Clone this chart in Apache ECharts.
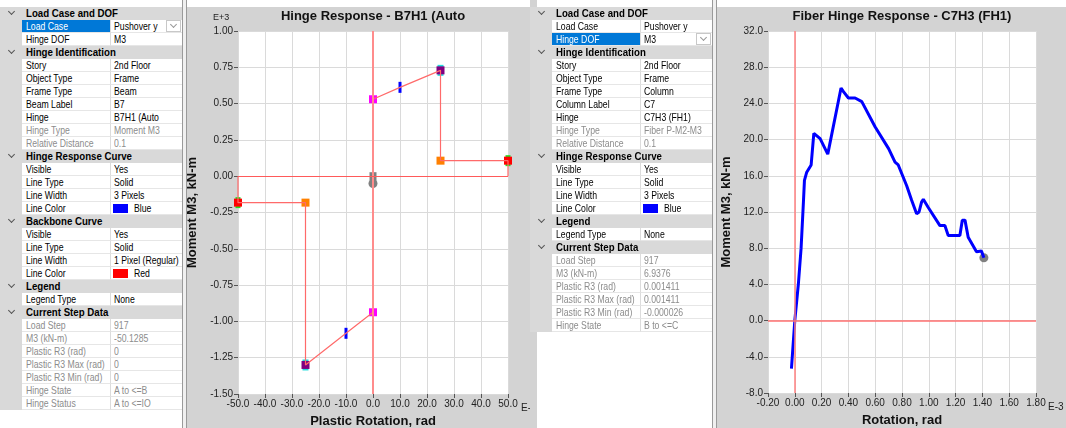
<!DOCTYPE html>
<html>
<head>
<meta charset="utf-8">
<script src="https://cdn.jsdelivr.net/npm/echarts@6/dist/echarts.min.js"></script>
<style>
  body { margin: 0; width: 1066px; height: 428px; position: relative; overflow: hidden; background: #fff;
         font-family: 'Liberation Sans', Arial, sans-serif; }
  .chart { position: absolute; top: 7px; height: 421px; }
  .tbl { position: absolute; top: 7px; width: 182px; }
  .row { display: flex; height: 13px; line-height: 12px; font-size: 11px; color: #000; }
  .gut { width: 22px; background: #d9d9d9; position: relative; flex: none; }
  .hdr { flex: 1; background: #d9d9d9; font-weight: bold; padding-left: 4px; white-space: nowrap; }
  .lab { width: 89px; flex: none; box-sizing: border-box; padding-left: 4px; background: #fff;
         border-right: 1px solid #dcdcdc; border-bottom: 1px solid #e6e6e6; white-space: nowrap; overflow: hidden; }
  .val { flex: 1; box-sizing: border-box; padding-left: 3px; background: #fff; position: relative;
         border-bottom: 1px solid #e6e6e6; white-space: nowrap; overflow: hidden; }
  .t { display: inline-block; transform: scaleX(0.79); transform-origin: 0 50%; }
  .hdr .t { transform: scaleX(0.88); }
  .dis { color: #8c8c8c; }
  .sel { background: #0078d7; color: #fff; }
  .chev { position: absolute; left: 9px; top: 2px; width: 4px; height: 4px; transform: rotate(45deg);
          border-right: 1px solid #555; border-bottom: 1px solid #555; }
  .drop { position: absolute; right: 1px; top: 0; width: 13px; height: 10px; border: 1px solid #c8c8c8; background: #fff; }
  .drop .chev { left: 4px; top: 1px; border-color: #999; }
  .sw { display: inline-block; width: 15px; height: 9px; vertical-align: -1px; margin: 0 6px 0 -1px; }
  .split { position: absolute; top: 0; width: 3px; height: 428px; background: #f0f0f0;
           border-left: 1px solid #9a9a9a; border-right: 1px solid #9a9a9a; }
</style>
</head>
<body>
<div id="chartL" class="chart" style="left:187px;width:350px;"></div>
<div id="chartR" class="chart" style="left:717px;width:349px;"></div>
<div style="position:absolute;left:530px;top:0;width:7px;height:428px;background:#d3d3d3;"></div>
<div id="tblL" class="tbl" style="left:0;"></div>
<div id="tblR" class="tbl" style="left:530px;"></div>
<div class="split" style="left:182px;"></div>
<div class="split" style="left:712px;"></div>
<script>
// property grids: [kind, label, value, extra]
// kind: h = header, n = normal, d = disabled
var leftRows = [
  ['h', 'Load Case and DOF'],
  ['n', 'Load Case', 'Pushover y', 'seldrop'],
  ['n', 'Hinge DOF', 'M3'],
  ['h', 'Hinge Identification'],
  ['n', 'Story', '2nd Floor'],
  ['n', 'Object Type', 'Frame'],
  ['n', 'Frame Type', 'Beam'],
  ['n', 'Beam Label', 'B7'],
  ['n', 'Hinge', 'B7H1 (Auto'],
  ['d', 'Hinge Type', 'Moment M3'],
  ['d', 'Relative Distance', '0.1'],
  ['h', 'Hinge Response Curve'],
  ['n', 'Visible', 'Yes'],
  ['n', 'Line Type', 'Solid'],
  ['n', 'Line Width', '3 Pixels'],
  ['n', 'Line Color', 'Blue', '#0000ff'],
  ['h', 'Backbone Curve'],
  ['n', 'Visible', 'Yes'],
  ['n', 'Line Type', 'Solid'],
  ['n', 'Line Width', '1 Pixel (Regular)'],
  ['n', 'Line Color', 'Red', '#ff0000'],
  ['h', 'Legend'],
  ['n', 'Legend Type', 'None'],
  ['h', 'Current Step Data'],
  ['d', 'Load Step', '917'],
  ['d', 'M3 (kN-m)', '-50.1285'],
  ['d', 'Plastic R3 (rad)', '0'],
  ['d', 'Plastic R3 Max (rad)', '0'],
  ['d', 'Plastic R3 Min (rad)', '0'],
  ['d', 'Hinge State', 'A to <=B'],
  ['d', 'Hinge Status', 'A to <=IO']
];

var rightRows = [
  ['h', 'Load Case and DOF'],
  ['n', 'Load Case', 'Pushover y'],
  ['n', 'Hinge DOF', 'M3', 'seldrop'],
  ['h', 'Hinge Identification'],
  ['n', 'Story', '2nd Floor'],
  ['n', 'Object Type', 'Frame'],
  ['n', 'Frame Type', 'Column'],
  ['n', 'Column Label', 'C7'],
  ['n', 'Hinge', 'C7H3 (FH1)'],
  ['d', 'Hinge Type', 'Fiber P-M2-M3'],
  ['d', 'Relative Distance', '0.1'],
  ['h', 'Hinge Response Curve'],
  ['n', 'Visible', 'Yes'],
  ['n', 'Line Type', 'Solid'],
  ['n', 'Line Width', '3 Pixels'],
  ['n', 'Line Color', 'Blue', '#0000ff'],
  ['h', 'Legend'],
  ['n', 'Legend Type', 'None'],
  ['h', 'Current Step Data'],
  ['d', 'Load Step', '917'],
  ['d', 'M3 (kN-m)', '6.9376'],
  ['d', 'Plastic R3 (rad)', '0.001411'],
  ['d', 'Plastic R3 Max (rad)', '0.001411'],
  ['d', 'Plastic R3 Min (rad)', '-0.000026'],
  ['d', 'Hinge State', 'B to <=C']
];

// left chart: backbone (rotation E-3, moment E+3)
var backboneRot = [-50, -50, -25, -25, -10, 0, 0, 10, 25, 25, 50, 50];
var backboneMom = [0, -0.182, -0.182, -1.30, -1.082, -0.937, 0.53, 0.612, 0.729, 0.107, 0.107, 0];
var yieldPts = [[0, 0.53], [0, -0.937]];
var ioPts = [[10, 0.612], [-10, -1.082]];
var capPts = [[25, 0.729], [-25, -1.30]];
var residPts = [[25, 0.107], [-25, -0.182]];
var endPts = [[50, 0.107], [-50, -0.182]];
var originPt = [[0, 0]];
var stepPtL = [[0, -0.05]];

// right chart: fiber hinge response (rotation E-3, moment kN-m)
var fiberRot = [-0.025, 0, 0.027, 0.047, 0.065, 0.072, 0.089, 0.122, 0.142, 0.189, 0.246, 0.345, 0.363, 0.40,
  0.45, 0.50, 0.60, 0.70, 0.748, 0.772, 0.835, 0.872, 0.909, 0.927, 0.946, 0.959, 0.996, 1.083, 1.12,
  1.145, 1.232, 1.25, 1.27, 1.294, 1.356, 1.393, 1.411];
var fiberMom = [-5.3, 0, 4.1, 8.0, 13.3, 15.5, 16.4, 17.2, 20.7, 20.1, 18.4, 25.7, 25.3, 24.6,
  24.6, 24.2, 21.4, 19.0, 17.5, 17.2, 14.9, 13.3, 11.8, 12.0, 13.1, 13.4, 12.5, 10.5, 10.5,
  9.4, 9.4, 11.1, 11.1, 9.2, 7.6, 7.7, 6.94];
var stepPtR = [[1.411, 6.94]];

var FONT = "'Liberation Sans', Arial, sans-serif";

function esc(s) {
  return s.replace(/&/g, '&amp;').replace(/</g, '&lt;');
}

function buildTable(el, rows) {
  var html = '';
  rows.forEach(function (r) {
    if (r[0] === 'h') {
      html += '<div class="row"><div class="gut"><div class="chev"></div></div><div class="hdr"><span class="t">' +
        esc(r[1]) + '</span></div></div>';
      return;
    }
    var cls = r[0] === 'd' ? ' dis' : '';
    var extra = r[3] || '';
    var labCls = extra === 'seldrop' ? ' sel' : '';
    var val = '<span class="t">' + esc(r[2]) + '</span>';
    if (extra.charAt(0) === '#') {
      val = '<span class="sw" style="background:' + extra + '"></span>' + val;
    }
    if (extra === 'seldrop') {
      val += '<div class="drop"><div class="chev"></div></div>';
    }
    html += '<div class="row' + cls + '"><div class="gut"></div><div class="lab' + labCls + '"><span class="t">' +
      esc(r[1]) + '</span></div><div class="val">' + val + '</div></div>';
  });
  el.innerHTML = html;
}

function zip(xs, ys) {
  return xs.map(function (x, i) { return [x, ys[i]]; });
}

function axisBase(name, gap, digits) {
  return {
    type: 'value',
    name: name,
    nameLocation: 'middle',
    nameGap: gap,
    nameTextStyle: { fontSize: 13, fontWeight: 'bold', color: '#111', fontFamily: FONT },
    axisLine: { show: false, onZero: false },
    axisTick: { show: true, length: 4, lineStyle: { color: '#555' } },
    axisLabel: {
      fontSize: 10, color: '#222', margin: 5, showMinLabel: true, showMaxLabel: true,
      formatter: function (v) { return v.toFixed(digits); }
    },
    splitLine: { show: true, lineStyle: { color: '#dadada', width: 1 } }
  };
}

function axisLines(vColor, vWidth, hColor, hWidth) {
  return {
    silent: true,
    symbol: ['none', 'none'],
    label: { show: false },
    animation: false,
    data: [
      { xAxis: 0, lineStyle: { color: vColor, width: vWidth, type: 'solid' } },
      { yAxis: 0, lineStyle: { color: hColor, width: hWidth, type: 'solid' } }
    ]
  };
}

function pts(data, symbol, size, color) {
  return { type: 'scatter', silent: true, symbol: symbol, symbolSize: size, data: data,
    itemStyle: { color: color, opacity: 1 } };
}

function leftOption() {
  var x = axisBase('Plastic Rotation, rad', 21, 1);
  x.min = -50; x.max = 50; x.interval = 10;
  var y = axisBase('Moment M3, kN-m', 31, 2);
  y.min = -1.5; y.max = 1; y.interval = 0.25;
  return {
    animation: false,
    backgroundColor: '#d3d3d3',
    textStyle: { fontFamily: FONT },
    title: {
      text: 'Hinge Response - B7H1 (Auto', left: 186, top: 3, padding: 0, textAlign: 'center',
      textStyle: { fontSize: 13, fontWeight: 'bold', color: '#111', fontFamily: FONT }
    },
    grid: { left: 51, top: 24, width: 270, height: 363, show: true, backgroundColor: '#fff', borderWidth: 0,
      outerBoundsMode: 'none', containLabel: false },
    xAxis: x,
    yAxis: y,
    graphic: [
      { type: 'text', left: 26, top: 6, style: { text: 'E+3', fontSize: 9, fill: '#222', fontFamily: FONT } },
      { type: 'text', left: 334, top: 396, style: { text: 'E-3', fontSize: 10, fill: '#222', fontFamily: FONT } }
    ],
    series: [
      {
        type: 'line', silent: true, data: zip(backboneRot, backboneMom), showSymbol: false,
        lineStyle: { color: '#ff6a6a', width: 1.2 },
        markLine: axisLines('#ff8c8c', 2, '#ff5a5a', 1)
      },
      pts(endPts, 'rect', [5, 11], '#22e022'),
      pts(capPts, 'rect', [6, 11], '#22dddd'),
      pts(endPts, 'rect', 8, '#ff0000'),
      pts(capPts, 'rect', 8, '#800080'),
      pts(residPts, 'rect', 8, '#ff8000'),
      pts(yieldPts, 'rect', 8, '#ff00ff'),
      pts(ioPts, 'rect', [3, 11], '#0000ff'),
      pts(originPt, 'rect', [7, 8], '#808080'),
      pts(stepPtL, 'circle', 9, '#808080')
    ]
  };
}

function rightOption() {
  var x = axisBase('Rotation, rad', 21, 2);
  x.min = -0.2; x.max = 1.8; x.interval = 0.2;
  var y = axisBase('Moment M3, kN-m', 32, 1);
  y.min = -8; y.max = 32; y.interval = 4;
  return {
    animation: false,
    backgroundColor: '#d3d3d3',
    textStyle: { fontFamily: FONT },
    title: {
      text: 'Fiber Hinge Response - C7H3 (FH1)', left: 185, top: 3, padding: 0, textAlign: 'center',
      textStyle: { fontSize: 13, fontWeight: 'bold', color: '#111', fontFamily: FONT }
    },
    grid: { left: 51, top: 24, width: 268, height: 362, show: true, backgroundColor: '#fff', borderWidth: 0,
      outerBoundsMode: 'none', containLabel: false },
    xAxis: x,
    yAxis: y,
    graphic: [
      { type: 'text', left: 331, top: 395, style: { text: 'E-3', fontSize: 10, fill: '#222', fontFamily: FONT } }
    ],
    series: [
      {
        type: 'line', silent: true, data: zip(fiberRot, fiberMom), showSymbol: false,
        lineStyle: { color: '#0000ff', width: 3 },
        markLine: axisLines('#ff8080', 1.5, '#ff7070', 1.5)
      },
      pts(stepPtR, 'circle', 9, '#808080')
    ]
  };
}

buildTable(document.getElementById('tblL'), leftRows);
buildTable(document.getElementById('tblR'), rightRows);

var chartL = echarts.init(document.getElementById('chartL'));
chartL.setOption(leftOption());
var chartR = echarts.init(document.getElementById('chartR'));
chartR.setOption(rightOption());
</script>
</body>
</html>
